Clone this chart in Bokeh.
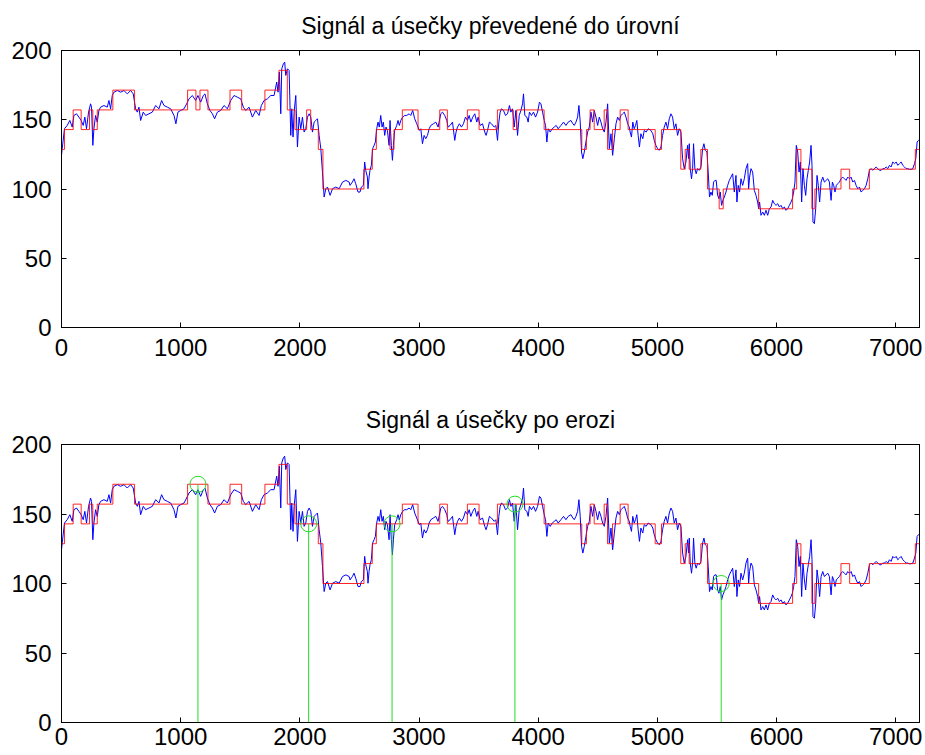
from bokeh.plotting import figure
from bokeh.models import Range1d, FixedTicker, LinearAxis, CustomJSTickFormatter
from bokeh.layouts import column
from bokeh.embed import file_html
from bokeh.resources import INLINE

# ---------------- data ----------------
blue_x = [0, 6, 25, 48, 70, 90, 104, 126, 146, 165, 182, 196, 210, 227, 244, 252, 263, 272, 286, 300,
          314, 328, 356, 384, 398, 412, 426, 440, 468, 496, 524, 552, 580, 602, 622, 636, 650, 664, 686, 706,
          734, 762, 790, 818, 840, 860, 888, 916, 944, 960, 977, 1000, 1028, 1050, 1070, 1098, 1126, 1145, 1168, 1190,
          1204, 1224, 1246, 1266, 1285, 1308, 1336, 1364, 1392, 1420, 1448, 1476, 1504, 1526, 1546, 1574, 1602, 1630, 1658, 1677,
          1700, 1728, 1756, 1784, 1806, 1817, 1828, 1840, 1848, 1862, 1873, 1882, 1896, 1910, 1924, 1932, 1943, 1952, 1966, 1980,
          1994, 2008, 2022, 2036, 2050, 2064, 2078, 2092, 2106, 2120, 2134, 2148, 2162, 2176, 2190, 2204, 2218, 2232, 2254, 2274,
          2302, 2330, 2358, 2386, 2414,
          2421, 2441, 2455, 2469, 2488, 2505, 2516, 2533, 2544, 2553, 2567, 2572, 2581, 2589, 2600, 2611, 2623, 2634, 2645, 2656,
          2667, 2679, 2690, 2701, 2712, 2723, 2735, 2749, 2757, 2768, 2777, 2785, 2796, 2813, 2824, 2835, 2847, 2863, 2880, 2897,
          2917, 2931, 2947, 2964, 2981, 3003, 3015, 3029, 3043, 3057, 3071, 3085, 3099, 3121, 3141, 3160, 3183, 3197, 3216, 3233,
          3244, 3261, 3281, 3300, 3311, 3323, 3339, 3356, 3373, 3390, 3407, 3421, 3435, 3451, 3468, 3485, 3496, 3513, 3533, 3552,
          3563, 3575, 3591, 3608, 3631, 3645, 3659, 3670, 3681, 3692, 3709, 3726, 3743, 3759, 3771, 3785, 3799, 3813, 3827, 3841,
          3855, 3869, 3877, 3888, 3905, 3916, 3927, 3944, 3961, 3978, 3995, 4011, 4023, 4037, 4051, 4062, 4073, 4084, 4101, 4118,
          4135, 4151, 4168, 4191, 4213, 4233, 4252, 4275, 4291, 4303, 4317, 4331, 4342, 4353, 4364, 4375, 4387, 4401, 4415, 4429,
          4443, 4457, 4471, 4485, 4499, 4513, 4527, 4541, 4555, 4569, 4583, 4597, 4611, 4625, 4639, 4653, 4667, 4681, 4695, 4709,
          4723, 4737, 4751, 4765,
          4772, 4783, 4794, 4806, 4817, 4828, 4839, 4850, 4862, 4878, 4890, 4906, 4923, 4946, 4962, 4974, 4988, 5002, 5016, 5030,
          5044, 5058, 5072, 5086, 5100, 5114, 5128, 5142, 5156, 5170, 5184, 5198, 5212, 5226, 5240, 5254, 5262, 5268, 5276, 5287,
          5296, 5304, 5315, 5326, 5338, 5352, 5366, 5380, 5391, 5402, 5416, 5427, 5438, 5450, 5461, 5472, 5483, 5494, 5506, 5517,
          5528, 5539, 5550, 5562, 5576, 5590, 5604, 5618, 5632, 5646, 5660, 5668, 5679, 5690, 5702, 5716, 5730, 5744, 5758, 5766,
          5774, 5786, 5800, 5814, 5828, 5842, 5850, 5858, 5870, 5884, 5898, 5912, 5926, 5940, 5954, 5968, 5982, 5996, 6010, 6024,
          6038, 6052, 6066, 6080, 6094, 6108, 6122, 6133, 6144, 6155, 6166, 6178, 6189, 6200, 6211, 6222, 6234, 6245, 6256, 6267,
          6278, 6290, 6298, 6306, 6318, 6329, 6340, 6351, 6362, 6374, 6388, 6402, 6416, 6430, 6444, 6458, 6469, 6480, 6491, 6502,
          6514, 6528, 6542, 6556, 6570, 6584, 6598, 6612, 6626, 6640, 6654, 6668, 6682, 6696, 6710, 6724, 6738, 6752, 6766, 6780,
          6794, 6808, 6822, 6836, 6850, 6864, 6878, 6892, 6906, 6920, 6934, 6948, 6962, 6976, 6990, 7004, 7018, 7032, 7046, 7060,
          7074, 7088, 7102, 7115, 7129, 7144, 7158, 7169, 7180, 7191, 7200]

blue_y = [124.3, 129.1, 143.5, 145.9, 149.5, 144.7, 153.1, 154.3, 151.9, 149.5, 145.9, 151.9, 143.5, 155.5, 161.5, 159.1, 131.5, 143.5, 153.1, 148.3,
          156.7, 159.1, 160.3, 159.1, 163.9, 157.9, 167.5, 169.9, 171.1, 169.9, 171.1, 168.7, 171.1, 168.7, 157.9, 155.5, 159.1, 149.5, 155.5, 153.1,
          154.3, 155.5, 160.3, 157.9, 163.9, 160.3, 159.1, 157.9, 153.1, 147.1, 155.5, 156.7, 157.9, 161.5, 165.1, 167.5, 163.9, 167.5, 162.7, 167.5,
          168.7, 161.5, 156.7, 154.3, 150.7, 155.5, 156.7, 160.3, 157.9, 163.9, 167.5, 166.3, 165.1, 159.1, 156.7, 159.1, 151.9, 156.7, 153.1, 160.3,
          163.9, 165.1, 167.5, 167.5, 177.2, 169.9, 184.4, 154.3, 186.8, 190.4, 191.6, 182.0, 186.8, 185.6, 138.7, 157.9, 137.5, 155.5, 167.5, 130.3,
          151.9, 143.5, 151.9, 141.1, 143.5, 151.9, 154.3, 151.9, 141.1, 148.3, 149.5, 150.7, 138.7, 129.1, 112.2, 94.2, 100.2, 101.4, 95.4, 100.2,
          101.4, 100.2, 105.0, 106.2, 105.0,
          102.6, 105.0, 107.4, 103.8, 97.8, 97.8, 101.4, 102.6, 119.5, 113.5, 108.6, 100.2, 108.6, 113.5, 117.1, 129.1, 131.5, 133.9, 143.5, 148.3,
          144.7, 153.1, 144.7, 148.3, 138.7, 144.7, 142.3, 131.5, 149.5, 131.5, 120.7, 131.5, 142.3, 145.9, 149.5, 145.9, 149.5, 151.9, 153.1, 153.1,
          154.3, 153.1, 156.7, 150.7, 147.1, 142.3, 143.5, 132.7, 138.7, 136.3, 138.7, 143.5, 145.9, 147.1, 148.3, 144.7, 154.3, 155.5, 153.1, 149.5,
          144.7, 145.9, 148.3, 135.1, 141.1, 144.7, 147.1, 144.7, 147.1, 151.9, 149.5, 153.1, 148.3, 151.9, 154.3, 148.3, 151.9, 145.9, 147.1, 141.1,
          138.7, 142.3, 148.3, 147.1, 144.7, 145.9, 135.1, 148.3, 155.5, 157.9, 156.7, 153.1, 154.3, 160.3, 155.5, 157.9, 144.7, 156.7, 138.7, 153.1,
          156.7, 161.5, 168.7, 153.1, 151.9, 148.3, 155.5, 153.1, 155.5, 151.9, 155.5, 162.7, 161.5, 155.5, 149.5, 145.9, 133.9, 143.5, 141.1, 143.5,
          144.7, 145.9, 143.5, 145.9, 148.3, 145.9, 148.3, 149.5, 147.1, 145.9, 148.3, 151.9, 160.3, 148.3, 126.7, 121.9, 126.7, 133.9, 141.1, 144.7,
          155.5, 148.3, 156.7, 151.9, 145.9, 151.9, 148.3, 143.5, 141.1, 148.3, 161.5, 129.1, 139.9, 124.3, 136.3, 147.1, 151.9, 149.5, 153.1, 154.3,
          155.5, 151.9, 147.1, 144.7,
          141.1, 137.5, 148.3, 143.5, 145.9, 149.5, 138.7, 130.3, 139.9, 136.3, 142.3, 141.1, 143.5, 142.3, 139.9, 135.1, 131.5, 129.1, 127.9, 130.3,
          138.7, 144.7, 148.3, 143.5, 150.7, 154.3, 151.9, 143.5, 147.1, 138.7, 143.5, 141.1, 121.9, 114.7, 119.5, 131.5, 121.9, 132.7, 114.7, 107.4,
          114.7, 132.7, 114.7, 111.0, 114.7, 113.5, 115.9, 129.1, 132.7, 127.9, 126.7, 112.2, 94.2, 97.8, 95.4, 105.0, 106.2, 106.2, 95.4, 93.0,
          97.8, 88.2, 91.8, 94.2, 97.8, 102.6, 106.2, 108.6, 111.0, 97.8, 109.8, 90.6, 102.6, 97.8, 107.4, 102.6, 107.4, 114.7, 118.3, 100.2,
          108.6, 114.7, 112.2, 99.0, 95.4, 90.6, 85.8, 90.6, 81.0, 83.4, 81.0, 84.6, 81.0, 85.8, 87.0, 91.8, 89.4, 88.2, 89.4, 87.0,
          88.2, 85.8, 87.0, 84.6, 85.8, 88.2, 90.6, 93.0, 97.8, 105.0, 131.5, 126.7, 112.2, 119.5, 90.6, 114.7, 102.6, 95.4, 107.4, 113.5,
          119.5, 131.5, 117.1, 76.2, 75.0, 85.8, 109.8, 102.6, 90.6, 105.0, 108.6, 105.0, 106.2, 107.4, 105.0, 91.8, 105.0, 102.6, 97.8, 102.6,
          103.8, 105.0, 107.4, 108.6, 107.4, 106.2, 108.6, 107.4, 108.6, 105.0, 106.2, 102.6, 100.2, 101.4, 97.8, 99.0, 100.2, 102.6, 107.4, 113.5,
          114.7, 113.5, 114.7, 115.9, 114.7, 113.5, 113.5, 114.7, 114.7, 115.9, 114.7, 117.1, 115.9, 119.5, 118.3, 119.5, 117.1, 118.3, 119.5, 117.1,
          115.9, 114.7, 114.7, 114.2, 114.2, 114.7, 118.3, 121.9, 133.9, 135.1, 135.8]

# level segments (start x, level) before erosion
lev_x = [0, 25, 98, 165, 235, 263, 300, 431, 613, 1058, 1128, 1162, 1229, 1414, 1512, 1707, 1825, 1895, 1959, 2057,
         2091, 2155, 2194, 2538, 2608, 2642, 2757, 2790, 2860, 2992, 3174, 3238, 3406, 3504, 3658, 3790, 3820, 4050, 4366, 4405,
         4436, 4470, 4554, 4582, 4624, 4688, 4755, 4982, 5035, 5197, 5234, 5267, 5365, 5421, 5519, 5553, 5850, 6135, 6169, 6205,
         6297, 6322, 6541, 6614, 6779, 7165, 7200]
lev_y = [128.6, 142.9, 157.1, 142.9, 157.1, 142.9, 157.1, 171.4, 157.1, 171.4, 157.1, 171.4, 157.1, 171.4, 157.1, 171.4, 185.7, 157.1, 142.9, 157.1,
         142.9, 128.6, 100.0, 114.3, 128.6, 142.9, 128.6, 142.9, 157.1, 142.9, 157.1, 142.9, 157.1, 142.9, 157.1, 142.9, 157.1, 142.9, 128.6, 142.9,
         157.1, 142.9, 157.1, 128.6, 142.9, 157.1, 142.9, 128.6, 142.9, 114.3, 128.6, 114.3, 128.6, 100.0, 85.7, 100.0, 85.7, 100.0, 128.6, 114.3,
         85.7, 100.0, 114.3, 100.0, 114.3, 128.6, 128.6]

# level segments after erosion
ero_x = [0, 25, 98, 165, 235, 263, 300, 431, 613, 1058, 1229, 1414, 1512, 1707, 1825, 1895, 1959,
         2155, 2194, 2538, 2608, 2642, 2860, 2992, 3174, 3238, 3406, 3504, 3658, 4050, 4366, 4405,
         4436, 4470, 4554, 4582, 4624, 4688, 4755, 4982, 5035, 5197, 5234, 5267, 5365, 5421, 5850, 6135, 6169, 6205,
         6297, 6322, 6541, 6614, 6779, 7165, 7200]
ero_y = [128.6, 142.9, 157.1, 142.9, 157.1, 142.9, 157.1, 171.4, 157.1, 171.4, 157.1, 171.4, 157.1, 171.4, 185.7, 157.1, 142.9,
         128.6, 100.0, 114.3, 128.6, 142.9, 157.1, 142.9, 157.1, 142.9, 157.1, 142.9, 157.1, 142.9, 128.6, 142.9,
         157.1, 142.9, 157.1, 128.6, 142.9, 157.1, 142.9, 128.6, 142.9, 114.3, 128.6, 114.3, 128.6, 100.0, 85.7, 100.0, 128.6, 114.3,
         85.7, 100.0, 114.3, 100.0, 114.3, 128.6, 128.6]

# removed short segments (marked in the second plot)
mark_x = [1145, 2074, 2774, 3805, 5536]
mark_y = [171.4, 142.9, 142.9, 157.1, 100.0]

x_ticks = [0, 1000, 2000, 3000, 4000, 5000, 6000, 7000]
y_ticks = [0, 50, 100, 150, 200]

titles = ["Signál a úsečky převedené do úrovní", "Signál a úsečky po erozi"]

FONT = "Liberation Sans"


def style_axis(ax, ticks, labels=True, standoff=8):
    ax.ticker = FixedTicker(ticks=ticks)
    ax.major_tick_in = 5
    ax.major_tick_out = 0
    ax.minor_tick_line_color = None
    ax.axis_line_color = "black"
    ax.major_tick_line_color = "black"
    ax.major_label_text_font = FONT
    ax.major_label_text_color = "black"
    if labels:
        ax.major_label_text_font_size = "24px"
        ax.major_label_standoff = standoff
    else:
        ax.formatter = CustomJSTickFormatter(code="return ''")
        ax.major_label_standoff = 0


def make_fig(title, rx, ry, height, border_bottom, x_standoff, marks=False):
    p = figure(width=925, height=height, x_range=Range1d(0, 7200), y_range=Range1d(0, 200),
               output_backend="svg", toolbar_location=None,
               min_border_left=61, min_border_right=6, min_border_top=50,
               min_border_bottom=border_bottom)
    p.title.text = title
    p.title.align = "center"
    p.title.vertical_align = "top"
    p.title.text_font = FONT
    p.title.text_font_size = "23px"
    p.title.text_font_style = "normal"
    p.title.text_color = "black"
    p.title.standoff = 20
    p.xgrid.visible = False
    p.ygrid.visible = False
    p.outline_line_color = "black"
    p.outline_line_alpha = 1.0
    p.background_fill_color = "white"
    p.border_fill_color = "white"
    style_axis(p.xaxis[0], x_ticks, True, x_standoff)
    style_axis(p.yaxis[0], y_ticks, True, 10)
    top = LinearAxis()
    style_axis(top, x_ticks, False)
    p.add_layout(top, "above")
    right = LinearAxis()
    style_axis(right, y_ticks, False)
    p.add_layout(right, "right")

    p.line(blue_x, blue_y, line_color="#0000ff", line_width=1)
    p.step(rx, ry, mode="after", line_color="#ff0000", line_width=1, line_alpha=0.85)
    if marks:
        p.segment(x0=mark_x, y0=[0] * len(mark_x), x1=mark_x, y1=mark_y,
                  line_color="#22dd22", line_width=1)
        p.scatter(mark_x, mark_y, marker="circle", size=16, fill_color=None,
                  line_color="#22dd22", line_width=1)
    return p


p1 = make_fig(titles[0], lev_x, lev_y, 394, 67, 11)
p2 = make_fig(titles[1], ero_x, ero_y, 361, 33, 5, marks=True)

layout = column(p1, p2)
open("out.html", "w").write(file_html(layout, INLINE))
